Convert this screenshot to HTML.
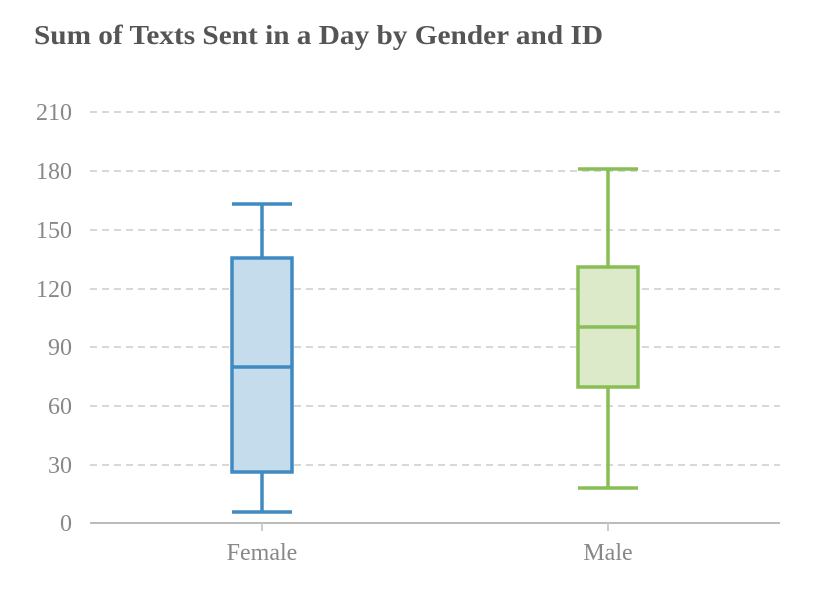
<!DOCTYPE html>
<html><head><style>body{margin:0;background:#fff;}</style></head><body>
<svg width="833" height="587" xmlns="http://www.w3.org/2000/svg" font-family="Liberation Serif, serif">
<text x="34" y="44" font-size="27" font-weight="bold" fill="#555" textLength="569" lengthAdjust="spacingAndGlyphs">Sum of Texts Sent in a Day by Gender and ID</text>
<g stroke="#d8d8d8" stroke-width="2" stroke-dasharray="7,5">
<line x1="90" x2="780" y1="112" y2="112"/><line x1="90" x2="780" y1="171" y2="171"/>
<line x1="90" x2="780" y1="230" y2="230"/><line x1="90" x2="780" y1="289" y2="289"/>
<line x1="90" x2="780" y1="347" y2="347"/><line x1="90" x2="780" y1="406" y2="406"/>
<line x1="90" x2="780" y1="465" y2="465"/>
</g>
<line x1="90" x2="780" y1="523" y2="523" stroke="#bbb" stroke-width="2"/>
<line x1="262" x2="262" y1="523" y2="531" stroke="#ccc" stroke-width="2"/>
<line x1="608" x2="608" y1="523" y2="531" stroke="#ccc" stroke-width="2"/>
<g font-size="24" fill="#888" text-anchor="end">
<text x="72" y="120">210</text><text x="72" y="179">180</text><text x="72" y="238">150</text>
<text x="72" y="297">120</text><text x="72" y="355">90</text><text x="72" y="414">60</text>
<text x="72" y="473">30</text><text x="72" y="531">0</text>
</g>
<g font-size="24" fill="#888" text-anchor="middle">
<text x="262" y="560">Female</text><text x="608" y="560">Male</text>
</g>
<g stroke="#3f8bc1" stroke-width="3.5">
<line x1="262" x2="262" y1="204" y2="257"/><line x1="262" x2="262" y1="472" y2="512"/>
<line x1="232" x2="292" y1="204" y2="204"/><line x1="232" x2="292" y1="512" y2="512"/>
<rect x="232" y="258" width="60" height="214" fill="#c5dcec"/>
<line x1="232" x2="292" y1="367" y2="367"/>
</g>
<g stroke="#89bd55" stroke-width="3.5">
<line x1="608" x2="608" y1="169" y2="267"/><line x1="608" x2="608" y1="387" y2="488"/>
<line x1="578" x2="638" y1="169" y2="169"/><line x1="578" x2="638" y1="488" y2="488"/>
<rect x="578" y="267" width="60" height="120" fill="#dceac9"/>
<line x1="578" x2="638" y1="327" y2="327"/>
</g>
</svg>
</body></html>
